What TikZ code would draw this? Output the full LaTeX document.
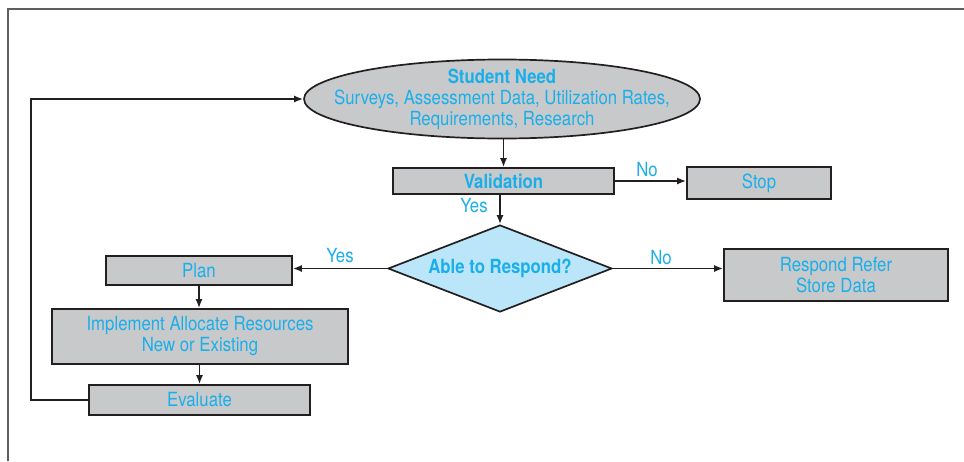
\documentclass[tikz,border=0pt]{standalone}
\usepackage{fontspec}
\setmainfont{TeX Gyre Heros}[FakeStretch=0.86]
\usetikzlibrary{shapes.geometric,arrows.meta}
\definecolor{txtcyan}{HTML}{1AAFEA}
\definecolor{boxfill}{HTML}{C8C9CB}
\definecolor{boxline}{HTML}{231F20}
\definecolor{decfill}{HTML}{BBE5F8}
\definecolor{framegray}{HTML}{5E5E5E}
\begin{document}
\begin{tikzpicture}[x=1pt,y=-1pt,
  every node/.style={font=\fontsize{19.5}{21}\selectfont, text=txtcyan},
  stepbox/.style={draw=boxline, fill=boxfill, line width=1.7pt, rectangle,
    inner sep=0pt, align=center},
  flow/.style={draw=boxline, line width=1.6pt, -{Latex[length=9pt,width=7pt]}},
  lbl/.style={inner sep=0pt}]
\useasboundingbox (0,0) rectangle (964,461);

% outer frame (left and top edges)
\draw[framegray, line width=2pt] (8,461) -- (8,9) -- (964,9);

% nodes
\node[ellipse, draw=boxline, fill=boxfill, line width=1.7pt,
  inner xsep=-35pt, inner ysep=-8pt,
  minimum width=396pt, minimum height=79pt, align=center] (need) at (502,99)
  {\textbf{Student Need}\\Surveys, Assessment Data, Utilization Rates,\\Requirements, Research};
\node[stepbox, minimum width=221pt, minimum height=26pt] (valid) at (503.5,181) {\textbf{Validation}};
\node[stepbox, minimum width=144pt, minimum height=32pt] (stop) at (759,183) {Stop};
\node[diamond, aspect=2.57, draw=boxline, fill=decfill, line width=1.7pt, inner sep=0pt,
  minimum width=224pt, minimum height=87pt] (able) at (500,268.5) {\textbf{Able to Respond?}};
\node[stepbox, minimum width=224pt, minimum height=52pt] (refer) at (836,275) {Respond Refer\\Store Data};
\node[stepbox, minimum width=186pt, minimum height=29pt] (plan) at (199,270.5) {Plan};
\node[stepbox, minimum width=296pt, minimum height=55pt] (impl) at (200,336.5) {Implement Allocate Resources\\New or Existing};
\node[stepbox, minimum width=221pt, minimum height=30pt] (eval) at (199.5,400) {Evaluate};

% connectors
\draw[flow] (need.south -| valid.north) -- (valid.north);
\draw[flow] (valid.east |- stop.west) ++(0,-2) coordinate (vs) -- (stop.west |- vs);
\draw[flow] (valid.south -| able.north) -- (able.north);
\draw[flow] (able.east) -- (refer.west |- able.east);
\draw[flow] (able.west) -- (plan.east |- able.west);
\draw[flow] (plan.south) -- (impl.north -| plan.south);
\draw[flow] (impl.south -| eval.north) -- (eval.north);
\draw[flow] (eval.west) -- ++(-57,0) |- (need.west);

% branch labels
\node[lbl] (noA) at (647,170) {No};
\node[lbl] (yesA) at (474,206) {Yes};
\node[lbl] (yesB) at (340,256) {Yes};
\node[lbl] (noB) at (661,258) {No};
\end{tikzpicture}
\end{document}
